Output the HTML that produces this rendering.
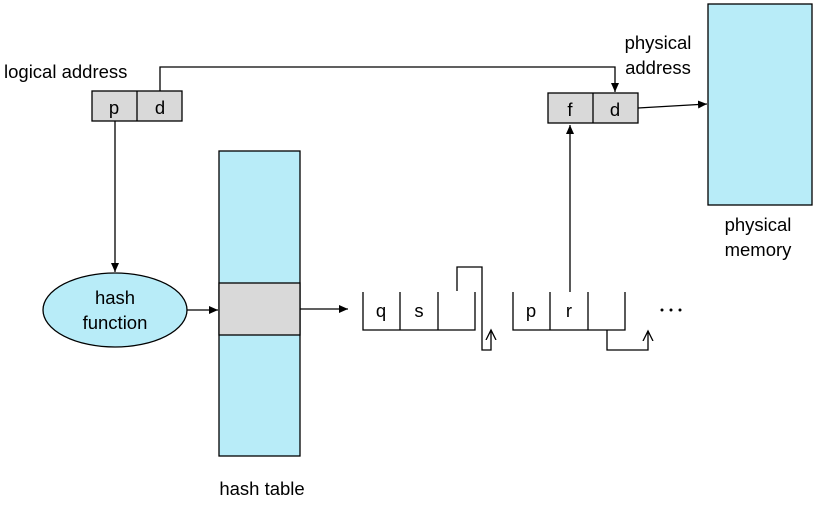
<!DOCTYPE html>
<html><head><meta charset="utf-8"><style>
body{margin:0;background:#fff;}
svg text{font-family:"Liberation Sans",sans-serif;font-size:18.5px;fill:#000;}
</style></head><body>
<svg width="816" height="501" viewBox="0 0 816 501" xmlns="http://www.w3.org/2000/svg">
<defs><marker id="a" markerWidth="10" markerHeight="10" refX="9" refY="5" orient="auto" markerUnits="userSpaceOnUse"><path d="M0,1 L9,5 L0,9 z" fill="#000"/></marker>
<marker id="o" markerWidth="12" markerHeight="12" refX="10" refY="6" orient="auto" markerUnits="userSpaceOnUse"><path d="M0,1 L10,6 L0,11" fill="none" stroke="#000" stroke-width="1.3"/></marker></defs>
<g stroke-width="1.3">
<rect x="708" y="4" width="104" height="201" fill="#b8ecf8" stroke="#000"/>
<text x="758" y="231" text-anchor="middle">physical</text>
<text x="758" y="256" text-anchor="middle">memory</text>
<text x="4" y="78">logical address</text>
<rect x="92" y="91" width="90" height="30" fill="#d9d9d9" stroke="#000"/>
<line x1="137" y1="91" x2="137" y2="121" stroke="#000"/>
<text x="114" y="114" text-anchor="middle">p</text>
<text x="160" y="114" text-anchor="middle">d</text>
<polyline points="160,91 160,67 615,67 615,92" fill="none" stroke="#000" marker-end="url(#a)"/>
<line x1="115" y1="121" x2="115" y2="272" stroke="#000" marker-end="url(#a)"/>
<text x="658" y="49" text-anchor="middle">physical</text>
<text x="658" y="74" text-anchor="middle">address</text>
<rect x="548" y="93" width="90" height="30" fill="#d9d9d9" stroke="#000"/>
<line x1="593" y1="93" x2="593" y2="123" stroke="#000"/>
<text x="570" y="116" text-anchor="middle">f</text>
<text x="615" y="116" text-anchor="middle">d</text>
<line x1="638" y1="108" x2="707" y2="104" stroke="#000" marker-end="url(#a)"/>
<ellipse cx="115" cy="310" rx="72" ry="37" fill="#b8ecf8" stroke="#000"/>
<text x="115" y="304" text-anchor="middle">hash</text>
<text x="115" y="329" text-anchor="middle">function</text>
<line x1="187" y1="310" x2="218" y2="310" stroke="#000" marker-end="url(#a)"/>
<rect x="219" y="151" width="81" height="305" fill="#b8ecf8" stroke="#000"/>
<rect x="219" y="283" width="81" height="52" fill="#d9d9d9" stroke="#000"/>
<text x="262" y="495" text-anchor="middle">hash table</text>
<line x1="300" y1="309" x2="348" y2="309" stroke="#000" marker-end="url(#a)"/>
<polyline points="363,292 363,330 475,330 475,292" fill="none" stroke="#000"/>
<line x1="400" y1="292" x2="400" y2="330" stroke="#000"/>
<line x1="438" y1="292" x2="438" y2="330" stroke="#000"/>
<text x="381" y="317" text-anchor="middle">q</text>
<text x="419" y="317" text-anchor="middle">s</text>
<polyline points="457,291 457,267 482,267 482,350 491,350 491,330" fill="none" stroke="#000" marker-end="url(#o)"/>
<polyline points="513,292 513,330 625,330 625,292" fill="none" stroke="#000"/>
<line x1="550" y1="292" x2="550" y2="330" stroke="#000"/>
<line x1="588" y1="292" x2="588" y2="330" stroke="#000"/>
<text x="531" y="317" text-anchor="middle">p</text>
<text x="569" y="317" text-anchor="middle">r</text>
<line x1="570" y1="292" x2="570" y2="125" stroke="#000" marker-end="url(#a)"/>
<polyline points="607,330 607,350 648,350 648,331" fill="none" stroke="#000" marker-end="url(#o)"/>
<circle cx="662" cy="310" r="1.5" fill="#000"/>
<circle cx="671" cy="310" r="1.5" fill="#000"/>
<circle cx="680" cy="310" r="1.5" fill="#000"/>
</g>
</svg>
</body></html>
